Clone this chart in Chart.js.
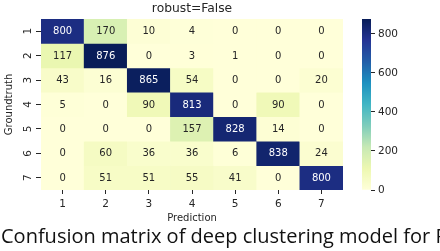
<!DOCTYPE html>
<html>
<head>
<meta charset="utf-8">
<script src="https://cdn.jsdelivr.net/npm/chart.js@4"></script>
<style>
  body { margin: 0; background: #fff; }
  #wrap { position: relative; width: 440px; height: 251px; overflow: hidden; }
  #heat { position: absolute; left: 0; top: 0; }
  #cbar { position: absolute; left: 355px; top: 0; }
  #caption {
    position: absolute; left: 1px; top: 226px; white-space: nowrap;
    font-family: "Open Sans", sans-serif; font-size: 20px; line-height: 20px; color: #111;
  }
</style>
</head>
<body>
<div id="wrap">
  <canvas id="heat" width="440" height="251"></canvas>
  <canvas id="cbar" width="85" height="251"></canvas>
  <div id="caption">Confusion matrix of deep clustering model for Pl</div>
</div>
<script>
// labels for both axes
const predLabels = ["1", "2", "3", "4", "5", "6", "7"];
const truthLabels = ["1", "2", "3", "4", "5", "6", "7"];

// one row per groundtruth class
const row1 = [800, 170, 10, 4, 0, 0, 0];
const row2 = [117, 876, 0, 3, 1, 0, 0];
const row3 = [43, 16, 865, 54, 0, 0, 20];
const row4 = [5, 0, 90, 813, 0, 90, 0];
const row5 = [0, 0, 0, 157, 828, 14, 0];
const row6 = [0, 60, 36, 36, 6, 838, 24];
const row7 = [0, 51, 51, 55, 41, 0, 800];
const matrix = [row1, row2, row3, row4, row5, row6, row7];

// colorbar
const cbarTicks = [0, 200, 400, 600, 800];
const cbarMin = 0;
const cbarMax = 876;

// YlGnBu stops
const ylgnbu = ["#ffffd9", "#edf8b1", "#c7e9b4", "#7fcdbb", "#41b6c4", "#1d91c0", "#225ea8", "#253494", "#081d58"];

function hexToRgb(h) {
  return [parseInt(h.slice(1, 3), 16), parseInt(h.slice(3, 5), 16), parseInt(h.slice(5, 7), 16)];
}

function colorAt(t) {
  t = Math.max(0, Math.min(1, t));
  const pos = t * (ylgnbu.length - 1);
  const i = Math.min(Math.floor(pos), ylgnbu.length - 2);
  const f = pos - i;
  const a = hexToRgb(ylgnbu[i]);
  const b = hexToRgb(ylgnbu[i + 1]);
  return a.map((v, k) => Math.round(v + (b[k] - v) * f));
}

function cellColor(v) {
  const c = colorAt((v - cbarMin) / (cbarMax - cbarMin));
  return "rgb(" + c.join(",") + ")";
}

function textColor(v) {
  const c = colorAt((v - cbarMin) / (cbarMax - cbarMin)).map((x) => {
    x = x / 255;
    return x <= 0.03928 ? x / 12.92 : Math.pow((x + 0.055) / 1.055, 2.4);
  });
  const lum = 0.2126 * c[0] + 0.7152 * c[1] + 0.0722 * c[2];
  return lum > 0.408 ? "#262626" : "#ffffff";
}

const font = "DejaVu Sans";

// each groundtruth row is a floating bar dataset spanning one row of the y scale
const datasets = matrix.map((row, r) => ({
  label: truthLabels[r],
  data: row.map(() => [r + 0.5, r + 1.5]),
  counts: row,
  backgroundColor: row.map((v) => cellColor(v)),
  borderWidth: 0,
  grouped: false,
  barPercentage: 1,
  categoryPercentage: 1,
}));

// write the count in every cell
const annotate = {
  id: "annotate",
  afterDatasetsDraw(chart) {
    const ctx = chart.ctx;
    ctx.save();
    ctx.font = "10px '" + font + "'";
    ctx.textAlign = "center";
    ctx.textBaseline = "middle";
    chart.data.datasets.forEach((ds, i) => {
      chart.getDatasetMeta(i).data.forEach((bar, j) => {
        const v = ds.counts[j];
        ctx.fillStyle = textColor(v);
        ctx.fillText(String(v), bar.x, (bar.y + bar.base) / 2 + 0.5);
      });
    });
    ctx.restore();
  },
};

new Chart(document.getElementById("heat"), {
  type: "bar",
  data: { labels: predLabels, datasets },
  plugins: [annotate],
  options: {
    responsive: false,
    animation: false,
    layout: { padding: { left: 0, right: 97, top: 0, bottom: 25 } },
    plugins: {
      legend: { display: false },
      tooltip: { enabled: false },
      title: {
        display: true,
        text: "robust=False",
        fullSize: false,
        color: "#262626",
        font: { family: font, size: 12.3, weight: "normal" },
        padding: { top: 1, bottom: 3.2 },
      },
    },
    scales: {
      x: {
        type: "category",
        offset: true,
        afterFit: (s) => { s.height = 36; },
        grid: { drawOnChartArea: false, offset: false, tickLength: 4, tickColor: "#262626", tickWidth: 1 },
        border: { display: false },
        ticks: { color: "#262626", padding: 4, font: { family: font, size: 10.5 } },
        title: { display: true, text: "Prediction", color: "#262626", font: { family: font, size: 10 }, padding: { top: 0, bottom: 2 } },
      },
      y: {
        type: "linear",
        reverse: true,
        min: 0.5,
        max: 7.5,
        afterFit: (s) => { s.width = 41; },
        afterBuildTicks: (s) => { s.ticks = truthLabels.map((_, i) => ({ value: i + 1 })); },
        grid: { drawOnChartArea: false, tickLength: 5, tickColor: "#262626", tickWidth: 1 },
        border: { display: false },
        ticks: {
          color: "#262626",
          padding: 4,
          minRotation: 90,
          maxRotation: 90,
          crossAlign: "center",
          font: { family: font, size: 10.5 },
          callback: (v) => truthLabels[Math.round(v) - 1],
        },
        title: { display: true, text: "Groundtruth", color: "#262626", font: { family: font, size: 10 }, padding: { top: 3, bottom: 0 } },
      },
    },
  },
});

// colorbar as a single floating bar filled with the colormap
new Chart(document.getElementById("cbar"), {
  type: "bar",
  data: {
    labels: [""],
    datasets: [{
      data: [[cbarMin, cbarMax]],
      borderWidth: 0,
      barPercentage: 1,
      categoryPercentage: 1,
      backgroundColor: (c) => {
        const area = c.chart.chartArea;
        if (!area) return "#ffffd9";
        const g = c.chart.ctx.createLinearGradient(0, area.bottom, 0, area.top);
        ylgnbu.forEach((col, i) => g.addColorStop(i / (ylgnbu.length - 1), col));
        return g;
      },
    }],
  },
  options: {
    responsive: false,
    animation: false,
    layout: { padding: { left: 7, right: 0, top: 19, bottom: 61 } },
    plugins: { legend: { display: false }, tooltip: { enabled: false } },
    scales: {
      x: { display: false },
      y: {
        position: "right",
        min: cbarMin,
        max: cbarMax,
        afterFit: (s) => { s.width = 69; },
        afterBuildTicks: (s) => { s.ticks = cbarTicks.map((v) => ({ value: v })); },
        grid: { drawOnChartArea: false, tickLength: 4, tickColor: "#262626", tickWidth: 1 },
        border: { display: false },
        ticks: { color: "#262626", padding: 3, font: { family: font, size: 10.5 } },
      },
    },
  },
});
</script>
</body>
</html>
